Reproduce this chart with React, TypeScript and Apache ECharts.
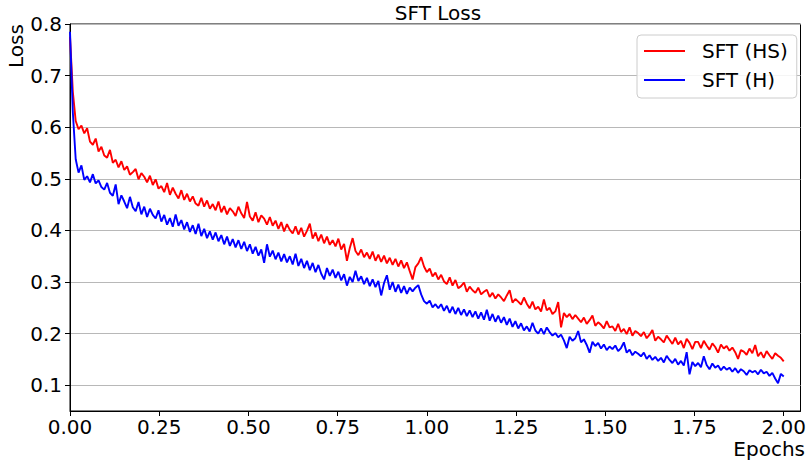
import React, { useEffect, useRef } from "react";
import * as echarts from "echarts";

const EPOCH_STEP = 0.008;
const X_TICKS = [0, 0.25, 0.5, 0.75, 1.0, 1.25, 1.5, 1.75, 2.0];
const Y_TICKS = [0.1, 0.2, 0.3, 0.4, 0.5, 0.6, 0.7, 0.8];
const SERIES_NAMES = ["SFT (HS)", "SFT (H)"];
const TITLE = "SFT Loss";
const X_NAME = "Epochs";
const Y_NAME = "Loss";

const LOSS_HS = [
  0.775, 0.668, 0.612, 0.596, 0.603, 0.588, 0.598, 0.572, 0.566, 0.578,
  0.553, 0.562, 0.545, 0.541, 0.556, 0.531, 0.537, 0.522, 0.534, 0.517,
  0.524, 0.508, 0.513, 0.519, 0.499, 0.511, 0.504, 0.493, 0.506, 0.488,
  0.499, 0.481, 0.486, 0.474, 0.492, 0.469, 0.483, 0.471, 0.462, 0.478,
  0.459, 0.471, 0.456, 0.466, 0.452, 0.448, 0.463, 0.446, 0.458, 0.442,
  0.451, 0.439, 0.456, 0.435, 0.447, 0.431, 0.443, 0.437, 0.428, 0.446,
  0.433, 0.424, 0.455, 0.427, 0.419, 0.435, 0.416, 0.429, 0.423, 0.411,
  0.426, 0.409, 0.419, 0.403, 0.416, 0.398, 0.412, 0.401, 0.394, 0.408,
  0.392, 0.405, 0.388, 0.399, 0.413, 0.384, 0.396, 0.379, 0.392, 0.375,
  0.388, 0.372, 0.381, 0.369, 0.384, 0.363, 0.374, 0.341, 0.366, 0.385,
  0.360, 0.352, 0.363, 0.348, 0.357, 0.345, 0.359, 0.341, 0.353, 0.339,
  0.351, 0.336, 0.347, 0.333, 0.345, 0.330, 0.342, 0.327, 0.338, 0.321,
  0.305, 0.329, 0.336, 0.348, 0.330, 0.319, 0.326, 0.311, 0.318, 0.305,
  0.314, 0.301, 0.296, 0.309, 0.293, 0.304, 0.288, 0.292, 0.299, 0.281,
  0.291, 0.284, 0.279, 0.289, 0.276, 0.281, 0.285, 0.271, 0.279, 0.268,
  0.276, 0.270, 0.263, 0.274, 0.284, 0.260, 0.267, 0.262, 0.256, 0.270,
  0.258, 0.249, 0.262, 0.247, 0.252, 0.243, 0.266, 0.245, 0.250, 0.238,
  0.243, 0.261, 0.212, 0.240, 0.232, 0.238, 0.228, 0.236, 0.229, 0.222,
  0.231, 0.219, 0.226, 0.235, 0.215, 0.222, 0.217, 0.210, 0.224, 0.212,
  0.214, 0.205, 0.219, 0.203, 0.209, 0.199, 0.212, 0.196, 0.205, 0.201,
  0.195, 0.203, 0.191, 0.198, 0.207, 0.186, 0.194, 0.189, 0.183, 0.196,
  0.188, 0.180, 0.192, 0.179, 0.186, 0.172, 0.190, 0.182, 0.170, 0.184,
  0.184, 0.172, 0.186, 0.177, 0.169, 0.181, 0.174, 0.163, 0.179, 0.171,
  0.176, 0.167, 0.173, 0.164, 0.151, 0.168, 0.165, 0.159, 0.171, 0.162,
  0.178, 0.156, 0.164, 0.153, 0.166, 0.158, 0.151, 0.162, 0.157, 0.153,
  0.146,
];

const LOSS_H = [
  0.785, 0.628, 0.538, 0.512, 0.526, 0.498, 0.505, 0.493, 0.509, 0.491,
  0.497, 0.484, 0.479, 0.492, 0.473, 0.467, 0.489, 0.451, 0.468, 0.456,
  0.443, 0.465, 0.445, 0.437, 0.455, 0.431, 0.446, 0.426, 0.442, 0.430,
  0.423, 0.439, 0.417, 0.430, 0.411, 0.424, 0.407, 0.431, 0.409, 0.420,
  0.402, 0.416, 0.397, 0.410, 0.393, 0.413, 0.389, 0.403, 0.385, 0.398,
  0.382, 0.396, 0.379, 0.391, 0.373, 0.388, 0.370, 0.383, 0.367, 0.381,
  0.364, 0.378, 0.360, 0.373, 0.355, 0.368, 0.351, 0.363, 0.337, 0.373,
  0.349, 0.361, 0.344, 0.357, 0.340, 0.354, 0.338, 0.350, 0.334, 0.355,
  0.331, 0.345, 0.327, 0.341, 0.323, 0.337, 0.319, 0.333, 0.316, 0.305,
  0.327, 0.312, 0.324, 0.308, 0.320, 0.303, 0.315, 0.293, 0.310, 0.300,
  0.322, 0.302, 0.311, 0.296, 0.308, 0.292, 0.305, 0.290, 0.302, 0.274,
  0.298, 0.313, 0.285, 0.300, 0.281, 0.295, 0.279, 0.292, 0.277, 0.289,
  0.282, 0.289, 0.294, 0.276, 0.263, 0.258, 0.264, 0.251, 0.257, 0.249,
  0.257, 0.244, 0.254, 0.240, 0.252, 0.238, 0.250, 0.236, 0.247, 0.234,
  0.245, 0.232, 0.243, 0.229, 0.241, 0.227, 0.246, 0.225, 0.238, 0.223,
  0.235, 0.221, 0.232, 0.217, 0.229, 0.213, 0.224, 0.210, 0.220, 0.206,
  0.214, 0.204, 0.221, 0.206, 0.200, 0.210, 0.199, 0.212, 0.203, 0.196,
  0.201, 0.193, 0.198, 0.187, 0.172, 0.194, 0.186, 0.191, 0.205, 0.183,
  0.189, 0.178, 0.163, 0.184, 0.176, 0.182, 0.171, 0.179, 0.168, 0.175,
  0.170, 0.177, 0.166, 0.172, 0.183, 0.163, 0.169, 0.158, 0.165, 0.161,
  0.156, 0.163, 0.151, 0.158, 0.149, 0.155, 0.147, 0.153, 0.144, 0.157,
  0.149, 0.143, 0.151, 0.140, 0.147, 0.138, 0.164, 0.121, 0.145, 0.137,
  0.143, 0.135, 0.156, 0.139, 0.131, 0.142, 0.134, 0.138, 0.129, 0.136,
  0.130, 0.134, 0.126, 0.133, 0.124, 0.131, 0.127, 0.120, 0.129, 0.125,
  0.128, 0.121, 0.130, 0.123, 0.126, 0.118, 0.124, 0.113, 0.104, 0.122,
  0.117,
];

const FONT = "DejaVu Sans";

export default function App() {
  const ref = useRef<HTMLDivElement>(null);

  useEffect(() => {
    if (!ref.current) return;
    const chart = echarts.init(ref.current, null, { renderer: "svg" });
    const toPairs = (arr: number[]) =>
      arr.map((v, i) => [Number((i * EPOCH_STEP).toFixed(3)), v]);

    const textStyle = (text: string, align: string) => ({
      text,
      fill: "#000000",
      fontSize: 20,
      fontFamily: FONT,
      align,
      verticalAlign: "middle",
      textAlign: align,
      textVerticalAlign: "middle",
    });

    chart.setOption({
      animation: false,
      backgroundColor: "#ffffff",
      grid: {
        left: 70,
        right: 5,
        top: 24,
        bottom: 50,
        show: true,
        borderColor: "#000000",
        borderWidth: 1,
        backgroundColor: "transparent",
      },
      xAxis: {
        type: "value",
        min: 0,
        max: 2.047,
        axisLine: { show: true, lineStyle: { color: "#000000", width: 1 } },
        axisTick: {
          show: true,
          length: 5,
          customValues: X_TICKS,
          lineStyle: { color: "#000000", width: 1 },
        },
        axisLabel: {
          customValues: X_TICKS,
          formatter: (v: number) => v.toFixed(2),
          fontSize: 20,
          fontFamily: FONT,
          color: "#000000",
          margin: 6,
        },
        splitLine: { show: false },
      },
      yAxis: {
        type: "value",
        min: 0.05,
        max: 0.8,
        axisLine: { show: true, lineStyle: { color: "#000000", width: 1 } },
        axisTick: {
          show: true,
          length: 5,
          customValues: Y_TICKS,
          lineStyle: { color: "#000000", width: 1 },
        },
        axisLabel: {
          customValues: Y_TICKS,
          formatter: (v: number) => v.toFixed(1),
          fontSize: 20,
          fontFamily: FONT,
          color: "#000000",
          margin: 8,
        },
        splitLine: { show: true, lineStyle: { color: "#b8b8b8", width: 1 } },
      },
      legend: {
        data: SERIES_NAMES,
        orient: "vertical",
        left: 637,
        top: 35,
        icon: "rect",
        itemWidth: 41,
        itemHeight: 2,
        itemGap: 7,
        padding: [5, 9, 7, 7],
        backgroundColor: "rgba(255,255,255,0.85)",
        borderColor: "#cccccc",
        borderWidth: 1,
        borderRadius: 4,
        textStyle: {
          fontSize: 20,
          fontFamily: FONT,
          color: "#000000",
          lineHeight: 22,
          padding: [0, 0, 0, 12],
        },
      },
      graphic: [
        { type: "text", x: 438, y: 13, style: textStyle(TITLE, "center") },
        {
          type: "text",
          x: 16,
          y: 46,
          rotation: Math.PI / 2,
          style: textStyle(Y_NAME, "center"),
        },
        { type: "text", x: 805, y: 449, style: textStyle(X_NAME, "right") },
      ],
      series: [
        {
          name: SERIES_NAMES[0],
          type: "line",
          data: toPairs(LOSS_HS),
          showSymbol: false,
          symbol: "none",
          lineStyle: { color: "#ff0000", width: 1.9 },
          itemStyle: { color: "#ff0000" },
          clip: true,
        },
        {
          name: SERIES_NAMES[1],
          type: "line",
          data: toPairs(LOSS_H),
          showSymbol: false,
          symbol: "none",
          lineStyle: { color: "#0000ff", width: 1.9 },
          itemStyle: { color: "#0000ff" },
          clip: true,
        },
      ],
    });

    return () => chart.dispose();
  }, []);

  return (
    <div
      ref={ref}
      style={{ position: "absolute", left: 0, top: 0, width: 809, height: 461 }}
    />
  );
}
